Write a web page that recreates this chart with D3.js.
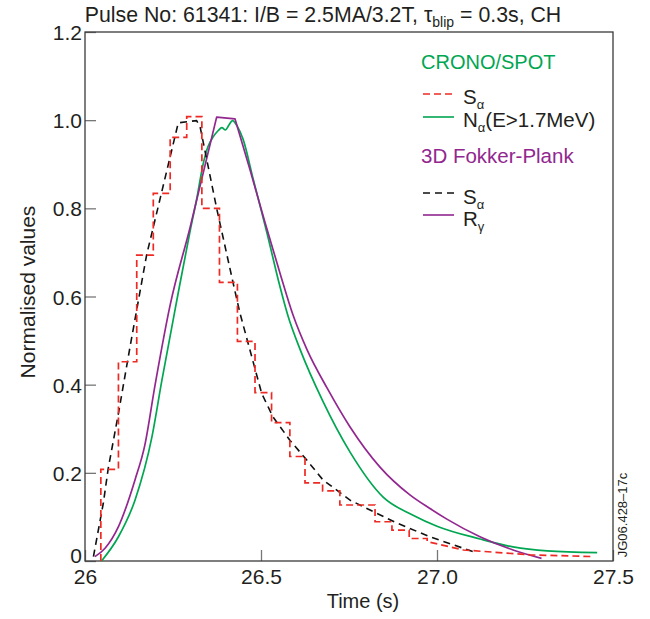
<!DOCTYPE html>
<html><head><meta charset="utf-8">
<script src="https://cdn.jsdelivr.net/npm/d3@7"></script>
<style>
body{margin:0;background:#fff}
text{font-family:"Liberation Sans",Arial,Helvetica,sans-serif;fill:#231f20}
</style>
</head><body>
<svg id="chart" width="650" height="619"></svg>
<script>
// ---------- data ----------
const xTicks = [26, 26.5, 27, 27.5];
const xTickLabels = ["26", "26.5", "27.0", "27.5"];
const yTicks = [0, 0.2, 0.4, 0.6, 0.8, 1.0, 1.2];
const yTickLabels = ["0", "0.2", "0.4", "0.6", "0.8", "1.0", "1.2"];

// CRONO/SPOT S_alpha : staircase (step start times and levels) + end of last step
const redStepStart = [26.045, 26.095, 26.147, 26.194, 26.242, 26.289, 26.332, 26.382, 26.433, 26.483,
                      26.530, 26.582, 26.625, 26.675, 26.724, 26.773, 26.824, 26.872, 26.921];
const redStepEnd = 26.972;
const redStepLevel = [0.208, 0.452, 0.694, 0.834, 0.961, 1.008, 0.800, 0.632, 0.498, 0.382,
                      0.314, 0.237, 0.177, 0.159, 0.127, 0.127, 0.089, 0.070, 0.051];
const redTailTime = [26.972, 27.075, 27.264, 27.444];
const redTailValue = [0.044, 0.025, 0.014, 0.010];

// CRONO/SPOT N_alpha(E>1.7MeV)
const greenTime = [26.047, 26.095, 26.142, 26.190, 26.218, 26.261, 26.298, 26.318, 26.335, 26.349,
                   26.364, 26.378, 26.389, 26.399, 26.409, 26.419, 26.432, 26.449, 26.477, 26.517,
                   26.554, 26.577, 26.611, 26.676, 26.753, 26.847, 26.932, 27.000, 27.122, 27.216,
                   27.313, 27.455];
const greenValue = [0.000, 0.055, 0.138, 0.281, 0.408, 0.592, 0.746, 0.824, 0.898, 0.939,
                    0.962, 0.976, 0.983, 0.978, 0.989, 0.999, 0.987, 0.957, 0.869, 0.744,
                    0.622, 0.555, 0.480, 0.362, 0.247, 0.145, 0.104, 0.079, 0.050, 0.032,
                    0.023, 0.019];

// 3D Fokker-Plank S_alpha
const blackTime = [26.024, 26.052, 26.066, 26.095, 26.128, 26.175, 26.265, 26.317, 26.327, 26.374,
                   26.421, 26.440, 26.502, 26.534, 26.582, 26.630, 26.676, 26.753, 26.791, 26.886,
                   26.980, 27.103];
const blackValue = [0.010, 0.131, 0.210, 0.335, 0.486, 0.694, 0.994, 0.999, 0.985, 0.800,
                    0.630, 0.563, 0.380, 0.327, 0.274, 0.229, 0.184, 0.138, 0.123, 0.086,
                    0.055, 0.021];

// 3D Fokker-Plank R_gamma (rise, flat top, decay)
const purpleTime = [26.028, 26.057, 26.095, 26.142, 26.170, 26.199, 26.242, 26.298, 26.374, 26.426,
                    26.469, 26.511, 26.554, 26.591, 26.631, 26.688, 26.753, 26.838, 26.923, 26.980,
                    27.028, 27.122, 27.216, 27.297];
const purpleValue = [0.010, 0.029, 0.078, 0.184, 0.263, 0.399, 0.581, 0.755, 1.007, 1.003,
                     0.887, 0.769, 0.653, 0.558, 0.479, 0.392, 0.304, 0.213, 0.150, 0.119,
                     0.095, 0.055, 0.025, 0.006];
const purplePeakStart = 8, purplePeakEnd = 9; // indices of the flat top corners

// ---------- chart ----------
const svg = d3.select("#chart");
const m = {left: 85, right: 613, top: 32, bottom: 561};
const x = d3.scaleLinear().domain([26, 27.5]).range([m.left, m.right]);
const y = d3.scaleLinear().domain([0, 1.2]).range([m.bottom, m.top]);

const FONT = '"Liberation Sans",Arial,Helvetica,sans-serif';
const C = {green: "#00a651", red: "#ee2a24", purple: "#92278f", black: "#111", axis: "#3a3a3a", tick: "#777"};

// axes
const xAxis = d3.axisBottom(x).tickValues(xTicks).tickFormat((d, i) => xTickLabels[i])
  .tickSizeInner(-11).tickSizeOuter(0).tickPadding(8);
const yAxis = d3.axisLeft(y).tickValues(yTicks).tickFormat((d, i) => yTickLabels[i])
  .tickSizeInner(-11).tickSizeOuter(0).tickPadding(3);

const gx = svg.append("g").attr("transform", `translate(0,${m.bottom})`).call(xAxis);
const gy = svg.append("g").attr("transform", `translate(${m.left},0)`).call(yAxis);
[gx, gy].forEach(g => {
  g.select(".domain").remove();
  g.selectAll(".tick line").attr("stroke", C.tick).attr("stroke-width", 1.3);
  g.selectAll(".tick text").attr("font-family", FONT).attr("font-size", 21).attr("fill", "#231f20");
});
gy.selectAll(".tick text").attr("dy", (d) => d === 0 ? "0.05em" : "0.36em");

// frame
svg.append("rect").attr("x", m.left).attr("y", m.top)
  .attr("width", m.right - m.left).attr("height", m.bottom - m.top)
  .attr("fill", "none").attr("stroke", C.axis).attr("stroke-width", 1.3);

// series
const line = d3.line().x(d => x(d[0])).y(d => y(d[1]));
const smooth = d3.line().x(d => x(d[0])).y(d => y(d[1])).curve(d3.curveMonotoneX);

// red staircase
const redPts = [[redStepStart[0], 0]];
redStepStart.forEach((t, i) => {
  const tEnd = i < redStepStart.length - 1 ? redStepStart[i + 1] : redStepEnd;
  redPts.push([t, redStepLevel[i]], [tEnd, redStepLevel[i]]);
});
redTailTime.forEach((t, i) => redPts.push([t, redTailValue[i]]));

const greenPts = greenTime.map((t, i) => [t, greenValue[i]]);
const purplePts = purpleTime.map((t, i) => [t, purpleValue[i]]);
const blackPts = blackTime.map((t, i) => [t, blackValue[i]]);

svg.append("path").attr("d", smooth(greenPts)).attr("fill", "none")
  .attr("stroke", C.green).attr("stroke-width", 1.7);

const purpleD = smooth(purplePts.slice(0, purplePeakStart + 1)) +
  line(purplePts.slice(purplePeakStart, purplePeakEnd + 1)).replace(/^M/, "L") +
  smooth(purplePts.slice(purplePeakEnd)).replace(/^M/, "L");
svg.append("path").attr("d", purpleD).attr("fill", "none")
  .attr("stroke", C.purple).attr("stroke-width", 1.7).attr("stroke-linejoin", "round");

svg.append("path").attr("d", line(blackPts)).attr("fill", "none")
  .attr("stroke", C.black).attr("stroke-width", 1.6).attr("stroke-dasharray", "7,5");
svg.append("path").attr("d", line(redPts)).attr("fill", "none")
  .attr("stroke", C.red).attr("stroke-width", 1.7).attr("stroke-dasharray", "7,4");

// title
const title = svg.append("text").attr("x", 323).attr("y", 22).attr("text-anchor", "middle")
  .attr("font-family", FONT).attr("font-size", 21.3);
title.append("tspan").text("Pulse No: 61341: I/B = 2.5MA/3.2T, τ");
title.append("tspan").attr("font-size", 14).attr("dy", 5).text("blip");
title.append("tspan").attr("dy", -5).text(" = 0.3s, CH");

// axis titles
svg.append("text").attr("x", 363).attr("y", 608).attr("text-anchor", "middle")
  .attr("font-family", FONT).attr("font-size", 20).text("Time (s)");
svg.append("text").attr("transform", "translate(35,292) rotate(-90)").attr("text-anchor", "middle")
  .attr("font-family", FONT).attr("font-size", 21).text("Normalised values");

// side label
svg.append("text").attr("transform", "translate(627,515) rotate(-90)").attr("text-anchor", "middle")
  .attr("font-family", FONT).attr("font-size", 13).text("JG06.428–17c");

// legend
const lg = svg.append("g");
lg.append("text").attr("x", 421).attr("y", 69).attr("font-family", FONT).attr("font-size", 20)
  .style("fill", C.green).text("CRONO/SPOT");
lg.append("text").attr("x", 421).attr("y", 163).attr("font-family", FONT).attr("font-size", 20.5)
  .style("fill", C.purple).text("3D Fokker-Plank");
const items = [
  {yl: 94, yt: 104, color: C.red, dash: "7,4", main: "S", sub: "α", rest: ""},
  {yl: 117, yt: 127, color: C.green, dash: null, main: "N", sub: "α", rest: "(E>1.7MeV)"},
  {yl: 193, yt: 204, color: C.black, dash: "7,5", main: "S", sub: "α", rest: ""},
  {yl: 215, yt: 226, color: C.purple, dash: null, main: "R", sub: "γ", rest: ""}
];
items.forEach(it => {
  lg.append("line").attr("x1", 423).attr("x2", 454).attr("y1", it.yl).attr("y2", it.yl)
    .attr("stroke", it.color).attr("stroke-width", 1.6)
    .attr("stroke-dasharray", it.dash);
  const t = lg.append("text").attr("x", 463).attr("y", it.yt).attr("font-family", FONT).attr("font-size", 20.5);
  t.append("tspan").text(it.main);
  t.append("tspan").attr("font-size", 13).attr("dy", 5).text(it.sub);
  if (it.rest) t.append("tspan").attr("dy", -5).text(it.rest);
});
</script>
</body></html>
